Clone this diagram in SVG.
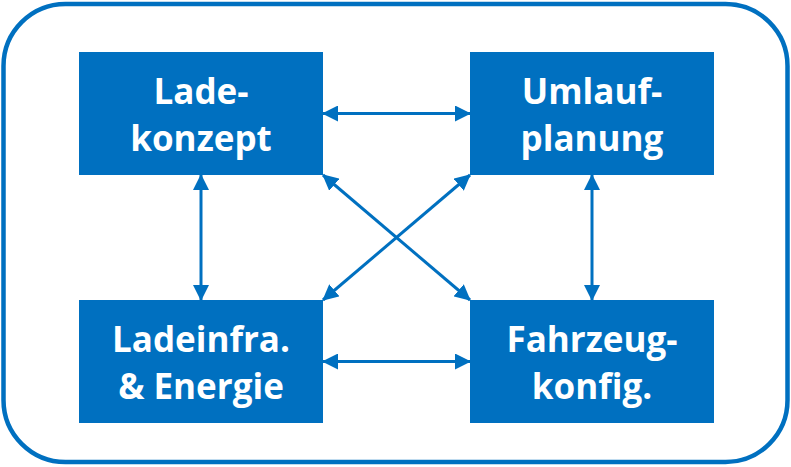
<svg xmlns="http://www.w3.org/2000/svg" width="791" height="467" viewBox="0 0 791 467">
<defs>
<style>
.frame{fill:#fff;stroke:#0070C0;stroke-width:4.5}
.box{fill:#0070C0}
.lbl{fill:#fff;font-family:"Open Sans","Noto Sans",sans-serif;font-weight:700;font-size:35px;text-anchor:middle}
.con{stroke:#0070C0;stroke-width:3;fill:none;marker-start:url(#ah);marker-end:url(#ah)}
</style>
<marker id="ah" viewBox="0 0 16 16" refX="15" refY="8" markerUnits="userSpaceOnUse" markerWidth="16" markerHeight="16" orient="auto-start-reverse">
<path d="M0,0 L16,8 L0,16 Z" fill="#0070C0"/>
</marker>
</defs>
<rect class="frame" x="3.5" y="4" width="784" height="458" rx="62" ry="62"/>
<g id="connectors">
<line class="con" x1="323" y1="113.5" x2="470" y2="113.5"/>
<line class="con" x1="323" y1="361.5" x2="470" y2="361.5"/>
<line class="con" x1="201" y1="175" x2="201" y2="300"/>
<line class="con" x1="592" y1="175" x2="592" y2="300"/>
<line class="con" x1="323" y1="175" x2="470" y2="300"/>
<line class="con" x1="470" y1="175" x2="323" y2="300"/>
</g>
<g id="ladekonzept">
<rect class="box" x="79" y="52" width="244" height="123"/>
<text class="lbl" x="201" y="104">Lade-</text>
<text class="lbl" x="201" y="151">konzept</text>
</g>
<g id="umlaufplanung">
<rect class="box" x="470" y="52" width="244" height="123"/>
<text class="lbl" x="592" y="104">Umlauf-</text>
<text class="lbl" x="592" y="151">planung</text>
</g>
<g id="ladeinfra">
<rect class="box" x="79" y="300" width="244" height="123"/>
<text class="lbl" x="201" y="352">Ladeinfra.</text>
<text class="lbl" x="201" y="399">&amp; Energie</text>
</g>
<g id="fahrzeugkonfig">
<rect class="box" x="470" y="300" width="244" height="123"/>
<text class="lbl" x="592" y="352">Fahrzeug-</text>
<text class="lbl" x="592" y="399">konfig.</text>
</g>
</svg>
